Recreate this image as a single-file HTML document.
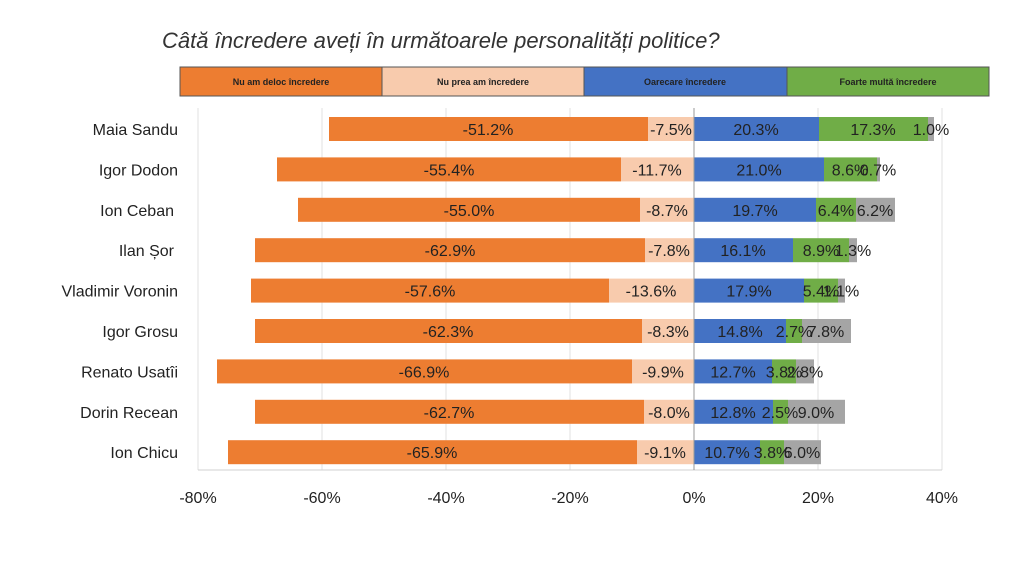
<!DOCTYPE html><html><head><meta charset="utf-8"><style>
body{margin:0;background:#fff;font-family:"Liberation Sans",sans-serif;}
svg text{font-family:"Liberation Sans",sans-serif;}
</style></head><body>
<svg width="1017" height="565" xmlns="http://www.w3.org/2000/svg">
<rect width="1017" height="565" fill="#fff"/>
<text x="162" y="48" font-size="22" font-style="italic" fill="#333">Câtă încredere aveți în următoarele personalități politice?</text>
<g stroke="#555" stroke-width="1">
<rect x="180" y="67" width="202" height="29" fill="#ED7D31"/>
<rect x="382" y="67" width="202" height="29" fill="#F8CBAD"/>
<rect x="584" y="67" width="203" height="29" fill="#4472C4"/>
<rect x="787" y="67" width="202" height="29" fill="#70AD47"/>
</g>
<g font-size="9" text-anchor="middle" fill="#222" font-weight="bold">
<text x="281" y="85">Nu am deloc încredere</text>
<text x="483" y="85">Nu prea am încredere</text>
<text x="685" y="85">Oarecare încredere</text>
<text x="888" y="85">Foarte multă încredere</text>
</g>
<g stroke="#e2e2e2" stroke-width="1">
<line x1="198" y1="108" x2="198" y2="470"/><line x1="322" y1="108" x2="322" y2="470"/>
<line x1="446" y1="108" x2="446" y2="470"/><line x1="570" y1="108" x2="570" y2="470"/>
<line x1="818" y1="108" x2="818" y2="470"/><line x1="942" y1="108" x2="942" y2="470"/>
</g>
<line x1="198" y1="470" x2="942" y2="470" stroke="#d0d0d0"/>
<g font-size="16" text-anchor="middle" fill="#222">
<text x="198" y="503">-80%</text><text x="322" y="503">-60%</text><text x="446" y="503">-40%</text>
<text x="570" y="503">-20%</text><text x="694" y="503">0%</text><text x="818" y="503">20%</text><text x="942" y="503">40%</text>
</g>

<!-- Row 1 -->
<rect x="329" y="117" width="319" height="24" fill="#ED7D31"/><rect x="648" y="117" width="46" height="24" fill="#F8CBAD"/><rect x="694" y="117" width="125" height="24" fill="#4472C4"/><rect x="819" y="117" width="109" height="24" fill="#70AD47"/><rect x="928" y="117" width="6" height="24" fill="#A5A5A5"/>
<!-- Row 2 -->
<rect x="277" y="157.4" width="344" height="24" fill="#ED7D31"/><rect x="621" y="157.4" width="73" height="24" fill="#F8CBAD"/><rect x="694" y="157.4" width="130" height="24" fill="#4472C4"/><rect x="824" y="157.4" width="53" height="24" fill="#70AD47"/><rect x="877" y="157.4" width="3" height="24" fill="#A5A5A5"/>
<!-- Row 3 -->
<rect x="298" y="197.8" width="342" height="24" fill="#ED7D31"/><rect x="640" y="197.8" width="54" height="24" fill="#F8CBAD"/><rect x="694" y="197.8" width="122" height="24" fill="#4472C4"/><rect x="816" y="197.8" width="40" height="24" fill="#70AD47"/><rect x="856" y="197.8" width="39" height="24" fill="#A5A5A5"/>
<!-- Row 4 -->
<rect x="255" y="238.2" width="390" height="24" fill="#ED7D31"/><rect x="645" y="238.2" width="49" height="24" fill="#F8CBAD"/><rect x="694" y="238.2" width="99" height="24" fill="#4472C4"/><rect x="793" y="238.2" width="56" height="24" fill="#70AD47"/><rect x="849" y="238.2" width="8" height="24" fill="#A5A5A5"/>
<!-- Row 5 -->
<rect x="251" y="278.6" width="358" height="24" fill="#ED7D31"/><rect x="609" y="278.6" width="85" height="24" fill="#F8CBAD"/><rect x="694" y="278.6" width="110" height="24" fill="#4472C4"/><rect x="804" y="278.6" width="34" height="24" fill="#70AD47"/><rect x="838" y="278.6" width="7" height="24" fill="#A5A5A5"/>
<!-- Row 6 -->
<rect x="255" y="319" width="387" height="24" fill="#ED7D31"/><rect x="642" y="319" width="52" height="24" fill="#F8CBAD"/><rect x="694" y="319" width="92" height="24" fill="#4472C4"/><rect x="786" y="319" width="16" height="24" fill="#70AD47"/><rect x="802" y="319" width="49" height="24" fill="#A5A5A5"/>
<!-- Row 7 -->
<rect x="217" y="359.4" width="415" height="24" fill="#ED7D31"/><rect x="632" y="359.4" width="62" height="24" fill="#F8CBAD"/><rect x="694" y="359.4" width="78" height="24" fill="#4472C4"/><rect x="772" y="359.4" width="24" height="24" fill="#70AD47"/><rect x="796" y="359.4" width="18" height="24" fill="#A5A5A5"/>
<!-- Row 8 -->
<rect x="255" y="399.8" width="389" height="24" fill="#ED7D31"/><rect x="644" y="399.8" width="50" height="24" fill="#F8CBAD"/><rect x="694" y="399.8" width="79" height="24" fill="#4472C4"/><rect x="773" y="399.8" width="15" height="24" fill="#70AD47"/><rect x="788" y="399.8" width="57" height="24" fill="#A5A5A5"/>
<!-- Row 9 -->
<rect x="228" y="440.2" width="409" height="24" fill="#ED7D31"/><rect x="637" y="440.2" width="57" height="24" fill="#F8CBAD"/><rect x="694" y="440.2" width="66" height="24" fill="#4472C4"/><rect x="760" y="440.2" width="24" height="24" fill="#70AD47"/><rect x="784" y="440.2" width="37" height="24" fill="#A5A5A5"/>

<line x1="694" y1="108" x2="694" y2="470" stroke="#999"/>

<g font-size="16" text-anchor="middle" fill="#222">
<text x="488" y="135">-51.2%</text><text x="671" y="135">-7.5%</text><text x="756" y="135">20.3%</text><text x="873" y="135">17.3%</text><text x="931" y="135">1.0%</text>
<text x="449" y="175.4">-55.4%</text><text x="657" y="175.4">-11.7%</text><text x="759" y="175.4">21.0%</text><text x="850" y="175.4">8.6%</text><text x="878" y="175.4">0.7%</text>
<text x="469" y="215.8">-55.0%</text><text x="667" y="215.8">-8.7%</text><text x="755" y="215.8">19.7%</text><text x="836" y="215.8">6.4%</text><text x="875" y="215.8">6.2%</text>
<text x="450" y="256.2">-62.9%</text><text x="669" y="256.2">-7.8%</text><text x="743" y="256.2">16.1%</text><text x="821" y="256.2">8.9%</text><text x="853" y="256.2">1.3%</text>
<text x="430" y="296.6">-57.6%</text><text x="651" y="296.6">-13.6%</text><text x="749" y="296.6">17.9%</text><text x="821" y="296.6">5.4%</text><text x="841" y="296.6">1.1%</text>
<text x="448" y="337">-62.3%</text><text x="668" y="337">-8.3%</text><text x="740" y="337">14.8%</text><text x="794" y="337">2.7%</text><text x="826" y="337">7.8%</text>
<text x="424" y="377.4">-66.9%</text><text x="663" y="377.4">-9.9%</text><text x="733" y="377.4">12.7%</text><text x="784" y="377.4">3.8%</text><text x="805" y="377.4">2.8%</text>
<text x="449" y="417.8">-62.7%</text><text x="669" y="417.8">-8.0%</text><text x="733" y="417.8">12.8%</text><text x="780" y="417.8">2.5%</text><text x="816" y="417.8">9.0%</text>
<text x="432" y="458.2">-65.9%</text><text x="665" y="458.2">-9.1%</text><text x="727" y="458.2">10.7%</text><text x="772" y="458.2">3.8%</text><text x="802" y="458.2">6.0%</text>
</g>
<g font-size="16" text-anchor="end" fill="#222">
<text x="178" y="135">Maia Sandu</text>
<text x="178" y="175.4">Igor Dodon</text>
<text x="174" y="215.8">Ion Ceban</text>
<text x="174" y="256.2">Ilan Șor</text>
<text x="178" y="296.6">Vladimir Voronin</text>
<text x="178" y="337">Igor Grosu</text>
<text x="178" y="377.4">Renato Usatîi</text>
<text x="178" y="417.8">Dorin Recean</text>
<text x="178" y="458.2">Ion Chicu</text>
</g>
</svg>
</body></html>
